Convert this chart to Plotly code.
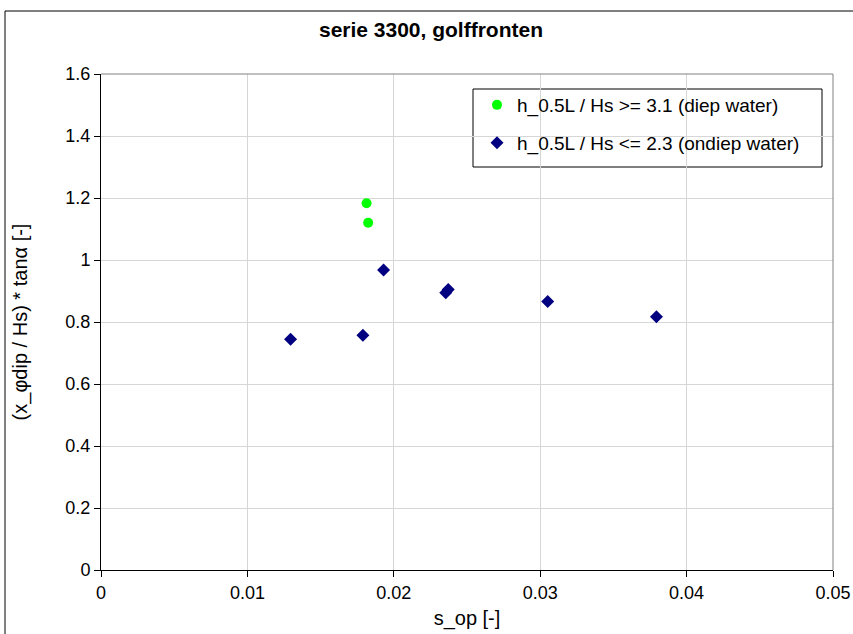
import plotly.graph_objects as go

# Data
deep_x = [0.01814, 0.01825]
deep_y = [1.183, 1.120]
shallow_x = [0.01295, 0.01789, 0.0193, 0.02355, 0.02372, 0.03051, 0.03794]
shallow_y = [0.744, 0.757, 0.968, 0.894, 0.905, 0.866, 0.817]

deep_name = "h_0.5L / Hs >= 3.1 (diep water)"
shallow_name = "h_0.5L / Hs <= 2.3 (ondiep water)"

title_text = "<b>serie 3300, golffronten</b>"
x_title = "s_op [-]"
y_title = "(x_φdip / Hs) * tanα [-]"

W, H = 853, 634
L, R, T, B = 101, 20, 74, 64
pw, ph = W - L - R, H - T - B

def px_x(p):
    return (p - L) / pw

def px_y(p):
    return (H - B - p) / ph

FONT = "Liberation Sans, Arial, sans-serif"

fig = go.Figure()
fig.add_trace(go.Scatter(
    x=deep_x, y=deep_y, mode="markers", name=deep_name,
    marker=dict(symbol="circle", size=10, color="#00ff00"),
    legend="legend",
))
fig.add_trace(go.Scatter(
    x=shallow_x, y=shallow_y, mode="markers", name=shallow_name,
    marker=dict(symbol="diamond", size=10, color="#000080"),
    legend="legend2",
))

axis_common = dict(
    showgrid=True, gridcolor="#d6d6d6", gridwidth=1,
    showline=True, linecolor="black", linewidth=1,
    ticks="outside", ticklen=6, tickcolor="black",
    tickfont=dict(family=FONT, size=18, color="black"),
    zeroline=False, automargin=False,
)

fig.update_xaxes(range=[0, 0.05], dtick=0.01, tick0=0,
                 title=dict(text=x_title, font=dict(family=FONT, size=20, color="black"), standoff=9),
                 **axis_common)
fig.update_yaxes(range=[0, 1.6], dtick=0.2, tick0=0, tickformat="~g",
                 title=dict(text=y_title, font=dict(family=FONT, size=20, color="black"), standoff=32),
                 **axis_common)

legend_font = dict(family=FONT, size=19, color="black")
fig.update_layout(
    width=W, height=H,
    margin=dict(l=L, r=R, t=T, b=B),
    paper_bgcolor="white", plot_bgcolor="white",
    title=dict(text=title_text, x=431 / W, xanchor="center", y=1 - 30 / H, yanchor="middle",
               font=dict(family=FONT, size=21, color="black")),
    showlegend=True,
    legend=dict(x=px_x(477), xanchor="left", y=px_y(105), yanchor="middle",
                bgcolor="rgba(0,0,0,0)", borderwidth=0, font=legend_font, itemwidth=30),
    legend2=dict(x=px_x(477), xanchor="left", y=px_y(143), yanchor="middle",
                 bgcolor="rgba(0,0,0,0)", borderwidth=0, font=legend_font, itemwidth=30),
    shapes=[
        # legend box
        dict(type="rect", xref="paper", yref="paper",
             x0=px_x(473), x1=px_x(822), y0=px_y(167), y1=px_y(89),
             line=dict(color="black", width=1), fillcolor="white", layer="below"),
        # plot area top and right border (gray)
        dict(type="line", xref="paper", yref="paper", x0=0, x1=1, y0=1, y1=1,
             line=dict(color="#808080", width=1)),
        dict(type="line", xref="paper", yref="paper", x0=1, x1=1, y0=0, y1=1,
             line=dict(color="#808080", width=1)),
        # outer chart frame (cut off at right and bottom)
        dict(type="rect", xref="paper", yref="paper",
             x0=px_x(5), x1=px_x(870), y0=px_y(650), y1=px_y(11),
             line=dict(color="black", width=1), fillcolor="rgba(0,0,0,0)"),
    ],
)

fig.write_html("out.html")
